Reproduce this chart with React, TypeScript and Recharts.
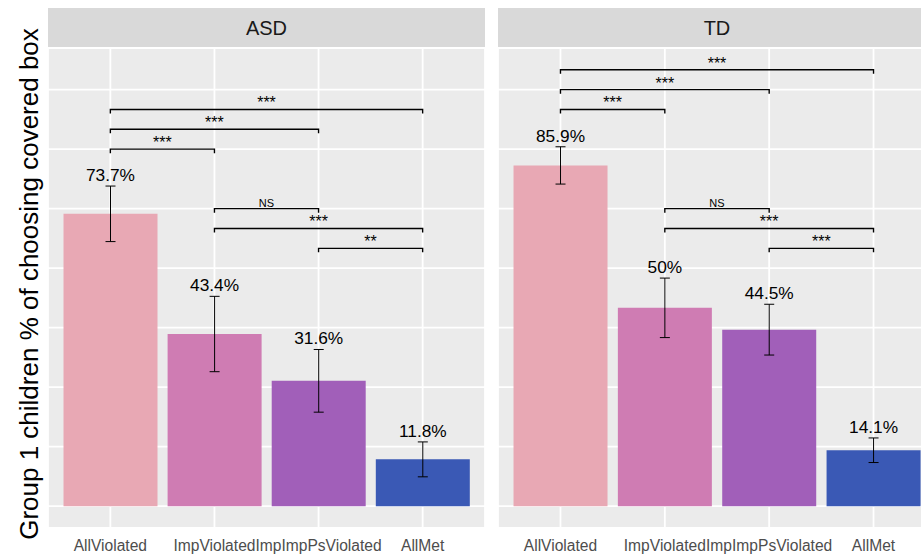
import React from "react";
import {
  BarChart,
  Bar,
  XAxis,
  YAxis,
  CartesianGrid,
  ErrorBar,
  LabelList,
  ReferenceLine,
  Cell,
} from "recharts";

const categories = ["AllViolated", "ImpViolated", "ImpImpPsViolated", "AllMet"];
const barColors = ["#E8A8B4", "#CF7CB3", "#A15FB9", "#3A59B5"];

const asdPct = [73.7, 43.4, 31.6, 11.8];
const asdSe = [7.0, 9.5, 7.9, 4.4];
const tdPct = [85.9, 50, 44.5, 14.1];
const tdSe = [4.7, 7.5, 6.4, 3.1];

const gridTicks = [0, 15, 30, 45, 60, 75, 90, 105];

type Bracket = { from: string; to: string; y: number; sig: string };

const asdBrackets: Bracket[] = [
  { from: "AllViolated", to: "ImpViolated", y: 90, sig: "***" },
  { from: "AllViolated", to: "ImpImpPsViolated", y: 95, sig: "***" },
  { from: "AllViolated", to: "AllMet", y: 100, sig: "***" },
  { from: "ImpViolated", to: "ImpImpPsViolated", y: 75, sig: "NS" },
  { from: "ImpViolated", to: "AllMet", y: 70, sig: "***" },
  { from: "ImpImpPsViolated", to: "AllMet", y: 65, sig: "**" },
];

const tdBrackets: Bracket[] = [
  { from: "AllViolated", to: "ImpViolated", y: 100, sig: "***" },
  { from: "AllViolated", to: "ImpImpPsViolated", y: 105, sig: "***" },
  { from: "AllViolated", to: "AllMet", y: 110, sig: "***" },
  { from: "ImpViolated", to: "ImpImpPsViolated", y: 75, sig: "NS" },
  { from: "ImpViolated", to: "AllMet", y: 70, sig: "***" },
  { from: "ImpImpPsViolated", to: "AllMet", y: 65, sig: "***" },
];

const FONT = "'Liberation Sans', Arial, Helvetica, sans-serif";

// bracket with short downward tips at both ends
const bracketShape = (p: any) => (
  <path
    d={`M${p.x1},${p.y1 + 4}V${p.y1}H${p.x2}V${p.y2 + 4}`}
    stroke="#000"
    strokeWidth={1.4}
    fill="none"
  />
);

const XTick = (p: any) => (
  <text
    x={p.x}
    y={p.y + 22.5}
    textAnchor="middle"
    fontSize={15.6}
    fill="#4D4D4D"
    fontFamily={FONT}
  >
    {p.payload.value}
  </text>
);

function Facet({
  title,
  values,
  se,
  brackets,
  left,
  width,
}: {
  title: string;
  values: number[];
  se: number[];
  brackets: Bracket[];
  left: number;
  width: number;
}) {
  const data = categories.map((c, i) => ({ cat: c, pct: values[i], se: se[i] }));

  const valueLabel = (p: any) => {
    const { x, y, width: w, height: h, index } = p;
    const v = values[index];
    const errTop = y - se[index] * (h / v);
    return (
      <text
        x={x + w / 2}
        y={errTop - 5}
        textAnchor="middle"
        fontSize={17.3}
        fill="#000"
        fontFamily={FONT}
      >
        {`${v}%`}
      </text>
    );
  };

  return (
    <>
      <div
        style={{
          position: "absolute",
          left,
          top: 8,
          width,
          height: 40,
          background: "#D9D9D9",
          color: "#1A1A1A",
          fontSize: 20,
          lineHeight: "40px",
          textAlign: "center",
          fontFamily: FONT,
        }}
      >
        {title}
      </div>
      <div style={{ position: "absolute", left, top: 8 }}>
        <BarChart
          width={width}
          height={548}
          data={data}
          margin={{ top: 40, right: 0, bottom: 0, left: 0 }}
          barCategoryGap="5%"
        >
          <CartesianGrid fill="#EBEBEB" stroke="#FFFFFF" strokeWidth={1.8} />
          <XAxis
            dataKey="cat"
            padding={{ left: 10.3, right: 10.3 }}
            axisLine={false}
            tickLine={false}
            tickSize={0}
            tickMargin={0}
            height={28}
            interval={0}
            tick={<XTick />}
          />
          <YAxis hide domain={[-5.5, 115.5]} ticks={gridTicks} />
          <Bar dataKey="pct" isAnimationActive={false}>
            {data.map((d, i) => (
              <Cell key={d.cat} fill={barColors[i]} />
            ))}
            <ErrorBar dataKey="se" width={5} stroke="#000" strokeWidth={1} />
            <LabelList dataKey="pct" content={valueLabel} />
          </Bar>
          {brackets.map((b) => (
            <ReferenceLine
              key={`${b.from}-${b.to}`}
              segment={[
                { x: b.from, y: b.y },
                { x: b.to, y: b.y },
              ]}
              shape={bracketShape}
              label={{
                value: b.sig,
                position: "top",
                offset: b.sig === "NS" ? 1.5 : 1,
                fontSize: b.sig === "NS" ? 11 : 16,
                fill: "#000",
                fontFamily: FONT,
              }}
            />
          ))}
        </BarChart>
      </div>
    </>
  );
}

export default function App() {
  return (
    <div
      style={{
        position: "absolute",
        left: 0,
        top: 0,
        width: 921,
        height: 556,
        overflow: "hidden",
        background: "#fff",
        fontFamily: FONT,
      }}
    >
      <svg
        width={60}
        height={556}
        style={{ position: "absolute", left: 0, top: 0 }}
      >
        <text
          transform="translate(38,284) rotate(-90)"
          textAnchor="middle"
          fontSize={26}
          fill="#000"
          fontFamily={FONT}
        >
          Group 1 children % of choosing covered box
        </text>
      </svg>
      <Facet title="ASD" values={asdPct} se={asdSe} brackets={asdBrackets} left={48} width={437} />
      <Facet title="TD" values={tdPct} se={tdSe} brackets={tdBrackets} left={498} width={438} />
    </div>
  );
}
